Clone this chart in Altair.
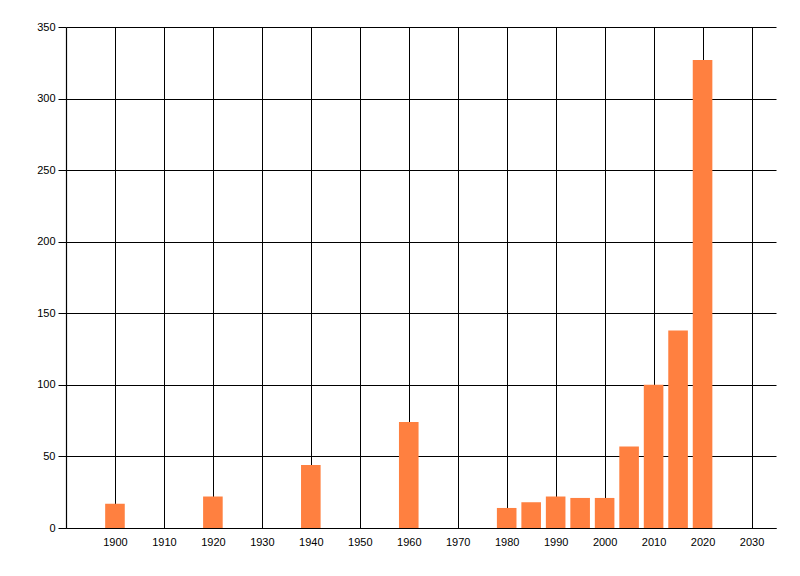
import altair as alt
import pandas as pd

years = [1900, 1920, 1940, 1960, 1980, 1985, 1990, 1995, 2000, 2005, 2010, 2015, 2020]
values = [17, 22, 44, 74, 14, 18, 22, 21, 21, 57, 100, 138, 327]
x_ticks = [1900, 1910, 1920, 1930, 1940, 1950, 1960, 1970, 1980, 1990, 2000, 2010, 2020, 2030]
y_ticks = [0, 50, 100, 150, 200, 250, 300, 350]

df = pd.DataFrame({"year": years, "value": values})

chart = (
    alt.Chart(df)
    .mark_bar(color="#FF8040", size=19.6)
    .encode(
        x=alt.X(
            "year:Q",
            scale=alt.Scale(domain=[1890, 2035], nice=False, zero=False, padding=0),
            axis=alt.Axis(
                values=x_ticks,
                format="d",
                title=None,
                grid=True,
                gridColor="#000000",
                gridOpacity=1,
                gridWidth=1,
                domainColor="#000000",
                domainWidth=1.2,
                ticks=False,
                labelPadding=8,
                labelFont="Liberation Sans",
                labelFontSize=11,
                labelColor="#000000",
            ),
        ),
        y=alt.Y(
            "value:Q",
            scale=alt.Scale(domain=[0, 350], nice=False, padding=0),
            axis=alt.Axis(
                values=y_ticks,
                title=None,
                grid=True,
                gridColor="#000000",
                gridOpacity=1,
                gridWidth=1,
                domainColor="#000000",
                domainWidth=1.2,
                ticks=True,
                tickColor="#000000",
                tickSize=8,
                labelPadding=3,
                labelFont="Liberation Sans",
                labelFontSize=11,
                labelColor="#000000",
            ),
        ),
    )
    .properties(
        width=710,
        height=501,
        background="#FFFFFF",
        autosize=alt.AutoSizeParams(type="none"),
        padding={"left": 58, "top": 19, "right": 16, "bottom": 40},
    )
    .configure_view(stroke="transparent", strokeWidth=0)
)

chart.save("out.html", embed_options={"renderer": "svg", "actions": False})
